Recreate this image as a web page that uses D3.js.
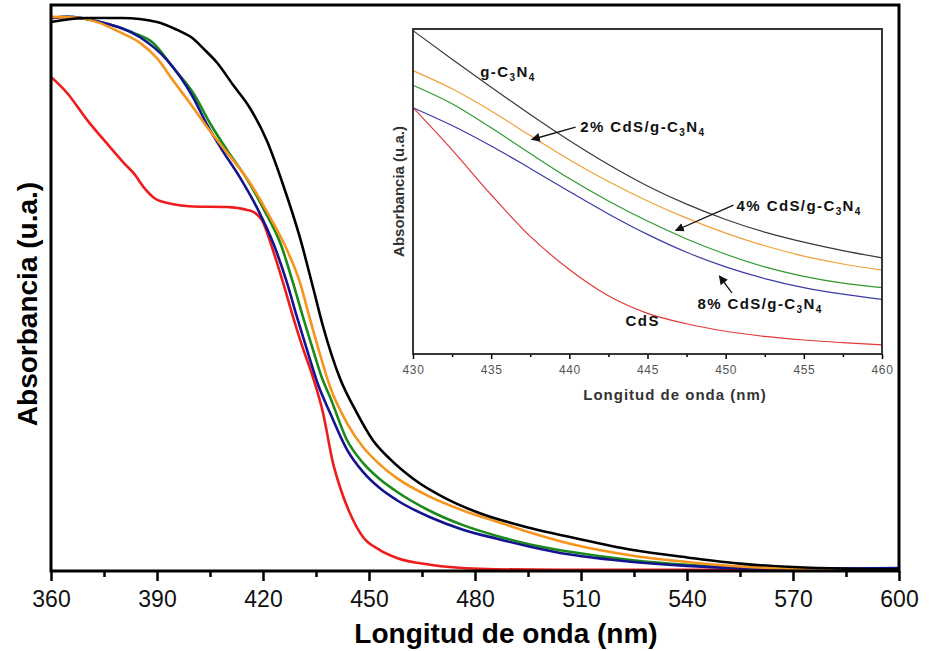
<!DOCTYPE html>
<html>
<head>
<meta charset="utf-8">
<script src="https://cdn.jsdelivr.net/npm/d3@7"></script>
<style>
  body { margin: 0; background: #fff; }
  svg { display: block; font-family: "Liberation Sans", Arial, sans-serif; }
</style>
</head>
<body>
<svg id="chart"></svg>
<script>
// main spectra: [wavelength (nm), absorbance (a.u.)]
const gC3N4 = [[360,0.970],[369.9,0.977],[380.1,0.977],[390,0.970],[395.7,0.956],[399.9,0.942],[403.6,0.920],
  [407,0.898],[411.5,0.859],[416.3,0.818],[421.1,0.760],[425.7,0.682],[430.5,0.588],[434.2,0.500],[437,0.432],
  [441.8,0.340],[446.6,0.279],[451.1,0.231],[455.9,0.198],[462.5,0.163],[472.1,0.127],[481.4,0.102],[495.6,0.076],
  [506.9,0.060],[524.7,0.037],[540,0.024],[555,0.013],[570,0.007],[585,0.004],[600,0.003]];
const cds2 = [[360,0.979],[368.2,0.977],[373.9,0.968],[379.5,0.952],[385.2,0.933],[390,0.906],[394.5,0.867],
  [399.3,0.827],[404.2,0.784],[409.2,0.744],[416.3,0.686],[422,0.625],[426.8,0.567],[430.5,0.509],[433,0.452],
  [435.8,0.390],[439,0.325],[443.8,0.261],[448.3,0.219],[453.1,0.188],[457.9,0.164],[467.3,0.131],[476.6,0.107],
  [486.2,0.087],[495.6,0.068],[506.9,0.048],[524.7,0.027],[540,0.016],[555,0.008],[570,0.004],[600,0.002]];
const cds4 = [[360,0.977],[364.5,0.979],[373.9,0.970],[383.2,0.951],[388.9,0.933],[394.5,0.890],[400.2,0.845],
  [405.3,0.788],[409.8,0.744],[415.2,0.695],[420.3,0.638],[425.1,0.576],[428.5,0.509],[431.3,0.449],[434.2,0.390],
  [436.7,0.341],[439,0.307],[443.8,0.231],[448.3,0.191],[453.1,0.162],[457.9,0.140],[467.3,0.106],[476.6,0.081],
  [486.2,0.062],[495.6,0.047],[506.9,0.034],[524.7,0.019],[540,0.011],[555,0.006],[570,0.004],[600,0.004]];
const cds8 = [[360,0.977],[364.5,0.979],[373.9,0.970],[385.2,0.943],[392.8,0.903],[400.2,0.837],[404.2,0.788],
  [408.4,0.744],[413.5,0.695],[418.6,0.638],[423.1,0.576],[426.8,0.509],[429.6,0.449],[432.5,0.390],[435.6,0.329],
  [439,0.279],[443.8,0.214],[448.3,0.175],[453.1,0.146],[457.9,0.125],[467.3,0.095],[476.6,0.073],[486.2,0.057],
  [495.6,0.043],[506.9,0.029],[524.7,0.016],[540,0.009],[555,0.005],[570,0.004],[600,0.005]];
const cds = [[360,0.873],[364.5,0.845],[370.2,0.797],[376.7,0.749],[380.9,0.719],[383.5,0.702],[386.5,0.676],
  [389,0.660],[393,0.650],[400.2,0.644],[409.8,0.643],[415.5,0.638],[417.7,0.633],[419.7,0.620],[422.8,0.567],
  [425.7,0.509],[428.5,0.449],[431,0.399],[434.2,0.341],[437,0.279],[439.8,0.191],[441.8,0.148],[444.6,0.102],
  [448.3,0.060],[453.1,0.037],[457.9,0.023],[467.3,0.011],[481.4,0.004],[504.1,0.002],[600,0.002]];

const xTicks = [360, 390, 420, 450, 480, 510, 540, 570, 600];
const xMinor = [375, 405, 435, 465, 495, 525, 555, 585];

// inset (zoom 430-460 nm)
const insetNm = [430, 432.5, 435, 437.5, 440, 442.5, 445, 447.5, 450, 452.5, 455, 457.5, 460];
const insetG = [0.995, 0.907, 0.821, 0.737, 0.657, 0.583, 0.517, 0.461, 0.414, 0.375, 0.344, 0.318, 0.296];
const inset2 = [0.872, 0.816, 0.748, 0.672, 0.598, 0.531, 0.471, 0.418, 0.372, 0.333, 0.301, 0.277, 0.258];
const inset4 = [0.827, 0.770, 0.696, 0.617, 0.540, 0.471, 0.409, 0.354, 0.307, 0.268, 0.239, 0.218, 0.204];
const inset8 = [0.758, 0.703, 0.640, 0.571, 0.500, 0.431, 0.368, 0.313, 0.268, 0.232, 0.204, 0.184, 0.168];
const insetS = [0.758, 0.628, 0.490, 0.362, 0.260, 0.179, 0.125, 0.093, 0.070, 0.054, 0.043, 0.035, 0.028];
const insetTicks = [430, 435, 440, 445, 450, 455, 460];
const insetMinor = [432.5, 437.5, 442.5, 447.5, 452.5, 457.5];

const width = 930, height = 651;
const svg = d3.select('#chart').attr('width', width).attr('height', height);

// ---------- main chart ----------
const x = d3.scaleLinear().domain([360, 600]).range([51, 899]);
const y = d3.scaleLinear().domain([0, 1]).range([571, 5]);

const series = [
  {data: cds, color: '#ee1c1c'},
  {data: cds4, color: '#1a8a1a'},
  {data: cds8, color: '#141490'},
  {data: cds2, color: '#f7941d'},
  {data: gC3N4, color: '#000000'}
];

const line = d3.line().x(d => x(d[0])).y(d => y(d[1])).curve(d3.curveMonotoneX);

svg.append('g').selectAll('path')
  .data(series)
  .join('path')
  .attr('d', d => line(d.data))
  .attr('fill', 'none')
  .attr('stroke', d => d.color)
  .attr('stroke-width', 2.6);

svg.append('g')
  .attr('transform', `translate(0,${y(0)})`)
  .call(d3.axisBottom(x).tickValues(xMinor).tickSize(6).tickFormat(''))
  .call(g => g.select('.domain').remove())
  .call(g => g.selectAll('.tick line').attr('stroke-width', 2.5));

svg.append('g')
  .attr('transform', `translate(0,${y(0)})`)
  .call(d3.axisBottom(x).tickValues(xTicks).tickSize(10).tickPadding(10))
  .call(g => g.select('.domain').remove())
  .call(g => g.selectAll('.tick line').attr('stroke-width', 2.5))
  .call(g => g.selectAll('.tick text')
    .attr('font-size', 23)
    .attr('font-family', '"Liberation Sans", Arial, sans-serif')
    .attr('fill', '#111'));

svg.append('rect')
  .attr('x', x(360)).attr('y', y(1))
  .attr('width', x(600) - x(360)).attr('height', y(0) - y(1))
  .attr('fill', 'none').attr('stroke', '#000').attr('stroke-width', 3);

svg.append('text')
  .attr('x', 506)
  .attr('y', 643)
  .attr('text-anchor', 'middle')
  .attr('font-size', 28).attr('font-weight', 'bold')
  .text('Longitud de onda (nm)');

svg.append('text')
  .attr('transform', `translate(37,${304}) rotate(-90)`)
  .attr('text-anchor', 'middle')
  .attr('font-size', 28).attr('font-weight', 'bold')
  .text('Absorbancia (u.a.)');

// ---------- inset ----------
const ix = d3.scaleLinear().domain([430, 460]).range([413, 882]);
const iy = d3.scaleLinear().domain([0, 1]).range([354, 29]);

const insetSeries = [
  {values: insetS, color: '#e23a3a'},
  {values: inset8, color: '#3a3aa6'},
  {values: inset4, color: '#2f9a2f'},
  {values: inset2, color: '#f0a038'},
  {values: insetG, color: '#3a3a3a'}
];

const iline = d3.line().x((d, i) => ix(insetNm[i])).y(d => iy(d)).curve(d3.curveMonotoneX);

svg.append('g').selectAll('path')
  .data(insetSeries)
  .join('path')
  .attr('d', d => iline(d.values))
  .attr('fill', 'none')
  .attr('stroke', d => d.color)
  .attr('stroke-width', 1.2);

svg.append('g')
  .attr('transform', `translate(0,${iy(0)})`)
  .call(d3.axisBottom(ix).tickValues(insetMinor).tickSize(3).tickFormat(''))
  .call(g => g.select('.domain').remove())
  .call(g => g.selectAll('.tick line').attr('stroke-width', 1.5));

svg.append('g')
  .attr('transform', `translate(0,${iy(0)})`)
  .call(d3.axisBottom(ix).tickValues(insetTicks).tickSize(5).tickPadding(6))
  .call(g => g.select('.domain').remove())
  .call(g => g.selectAll('.tick line').attr('stroke-width', 1.5))
  .call(g => g.selectAll('.tick text')
    .attr('font-size', 12)
    .attr('letter-spacing', 0.6)
    .attr('font-family', '"Liberation Sans", Arial, sans-serif')
    .attr('fill', '#555'));

svg.append('rect')
  .attr('x', ix(430)).attr('y', iy(1))
  .attr('width', ix(460) - ix(430)).attr('height', iy(0) - iy(1))
  .attr('fill', 'none').attr('stroke', '#222').attr('stroke-width', 1.8);

svg.append('text')
  .attr('x', 675)
  .attr('y', 400)
  .attr('text-anchor', 'middle')
  .attr('font-size', 15).attr('font-weight', 'bold')
  .attr('letter-spacing', 1).attr('fill', '#333')
  .text('Longitud de onda (nm)');

svg.append('text')
  .attr('transform', `translate(404,${iy(0.5)}) rotate(-90)`)
  .attr('text-anchor', 'middle')
  .attr('font-size', 15).attr('font-weight', 'bold')
  .attr('fill', '#333')
  .text('Absorbancia (u.a.)');

// labels and arrows, positioned in inset data units
const insetLabels = [
  {nm: 434.3, a: 0.852, pre: 'g-C', sub: true},
  {nm: 440.7, a: 0.684, pre: '2% CdS/g-C', sub: true},
  {nm: 450.7, a: 0.441, pre: '4% CdS/g-C', sub: true},
  {nm: 448.2, a: 0.138, pre: '8% CdS/g-C', sub: true},
  {nm: 443.6, a: 0.086, pre: 'CdS', sub: false}
];
const insetArrows = [
  {from: [440.4, 0.698], to: [437.6, 0.660]},
  {from: [450.5, 0.458], to: [446.8, 0.380]},
  {from: [450.4, 0.188], to: [449.6, 0.240]}
];

svg.append('defs').append('marker')
  .attr('id', 'arrow')
  .attr('viewBox', '0 0 10 10')
  .attr('refX', 9).attr('refY', 5)
  .attr('markerWidth', 9).attr('markerHeight', 9)
  .attr('markerUnits', 'userSpaceOnUse')
  .attr('orient', 'auto')
  .append('path')
  .attr('d', 'M0,0 L10,5 L0,10 z')
  .attr('fill', '#111');

svg.append('g').selectAll('line')
  .data(insetArrows)
  .join('line')
  .attr('x1', d => ix(d.from[0])).attr('y1', d => iy(d.from[1]))
  .attr('x2', d => ix(d.to[0])).attr('y2', d => iy(d.to[1]))
  .attr('stroke', '#111').attr('stroke-width', 1.3)
  .attr('marker-end', 'url(#arrow)');

const lbl = svg.append('g').selectAll('text')
  .data(insetLabels)
  .join('text')
  .attr('x', d => ix(d.nm))
  .attr('y', d => iy(d.a))
  .attr('font-size', 15).attr('font-weight', 'bold')
  .attr('letter-spacing', 1.4)
  .attr('fill', '#111');

lbl.append('tspan').text(d => d.pre);
lbl.filter(d => d.sub).each(function() {
  const t = d3.select(this);
  t.append('tspan').attr('font-size', 10).attr('dy', 4).text('3');
  t.append('tspan').attr('dy', -4).text('N');
  t.append('tspan').attr('font-size', 10).attr('dy', 4).text('4');
});
</script>
</body>
</html>
